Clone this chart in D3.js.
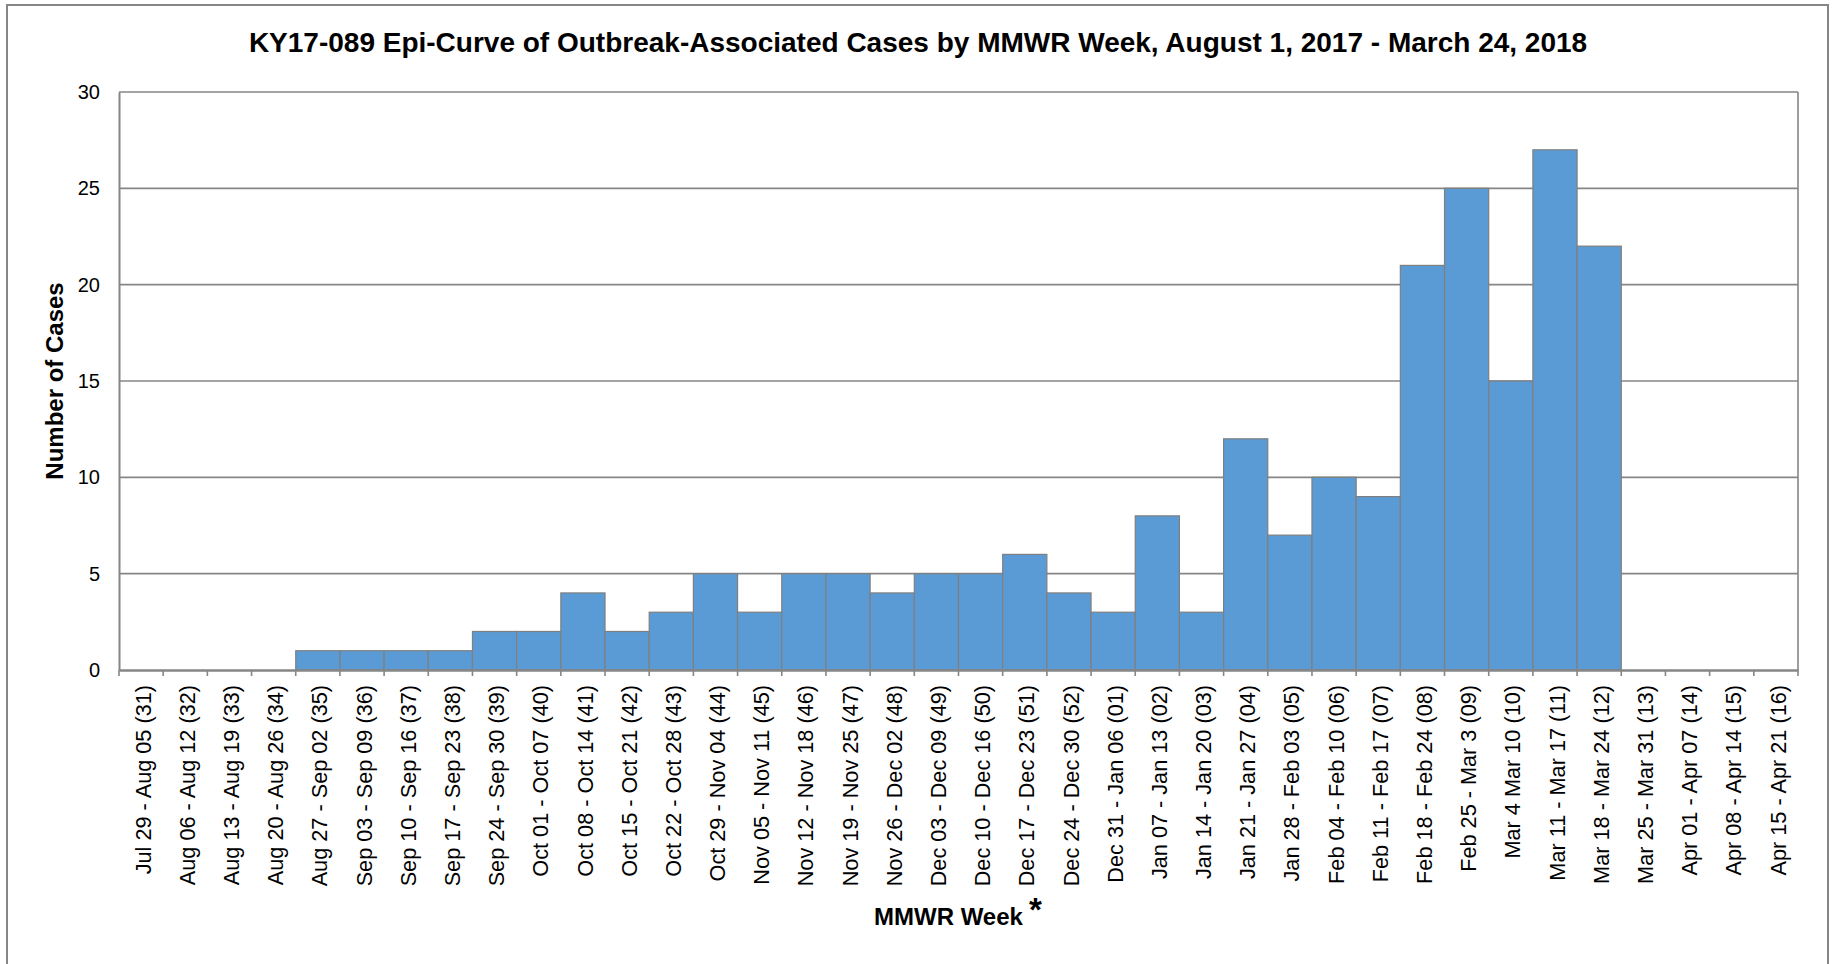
<!DOCTYPE html>
<html>
<head>
<meta charset="utf-8">
<script src="https://cdn.jsdelivr.net/npm/d3@7"></script>
<style>
  body { margin: 0; background: #fff; }
  svg { display: block; font-family: "Liberation Sans", Arial, sans-serif; }
</style>
</head>
<body>
<svg width="1833" height="964"></svg>
<script>
// weekly categories (MMWR week in brackets)
var weeks = [
  "Jul 29 - Aug 05 (31)", "Aug 06 - Aug 12 (32)", "Aug 13 - Aug 19 (33)", "Aug 20 - Aug 26 (34)",
  "Aug 27 - Sep 02 (35)", "Sep 03 - Sep 09 (36)", "Sep 10 - Sep 16 (37)", "Sep 17 - Sep 23 (38)",
  "Sep 24 - Sep 30 (39)", "Oct 01 - Oct 07 (40)", "Oct 08 - Oct 14 (41)", "Oct 15 - Oct 21 (42)",
  "Oct 22 - Oct 28 (43)", "Oct 29 - Nov 04 (44)", "Nov 05 - Nov 11 (45)", "Nov 12 - Nov 18 (46)",
  "Nov 19 - Nov 25 (47)", "Nov 26 - Dec 02 (48)", "Dec 03 - Dec 09 (49)", "Dec 10 - Dec 16 (50)",
  "Dec 17 - Dec 23 (51)", "Dec 24 - Dec 30 (52)", "Dec 31 - Jan 06 (01)", "Jan 07 - Jan 13 (02)",
  "Jan 14 - Jan 20 (03)", "Jan 21 - Jan 27 (04)", "Jan 28 - Feb 03 (05)", "Feb 04 - Feb 10 (06)",
  "Feb 11 - Feb 17 (07)", "Feb 18 - Feb 24 (08)", "Feb 25 - Mar 3 (09)", "Mar 4 Mar 10 (10)",
  "Mar 11 - Mar 17 (11)", "Mar 18 - Mar 24 (12)", "Mar 25 - Mar 31 (13)", "Apr 01 - Apr 07 (14)",
  "Apr 08 - Apr 14 (15)", "Apr 15 - Apr 21 (16)"
];
var cases = [0, 0, 0, 0, 1, 1, 1, 1, 2, 2, 4, 2, 3, 5, 3, 5, 5, 4, 5, 5, 6, 4, 3, 8, 3, 12, 7, 10, 9, 21, 25, 15, 27, 22, 0, 0, 0, 0];
var yTicks = [0, 5, 10, 15, 20, 25, 30];

var data = weeks.map(function(w, i) { return { week: w, n: cases[i] }; });

var svg = d3.select("svg");
var plotL = 119, plotR = 1798, plotT = 92, plotB = 670;
var grey = "#868686";

// outer frame
svg.append("rect")
  .attr("x", 7).attr("y", 5).attr("width", 1821).attr("height", 1000)
  .attr("fill", "none").attr("stroke", grey).attr("stroke-width", 2);

var x = d3.scaleBand().domain(weeks).range([plotL, plotR]).padding(0);
var y = d3.scaleLinear().domain([0, 30]).range([plotB, plotT]);

// gridlines
svg.append("g")
  .selectAll("line").data(yTicks.slice(1)).enter().append("line")
  .attr("x1", plotL).attr("x2", plotR)
  .attr("y1", function(d) { return y(d); })
  .attr("y2", function(d) { return y(d); })
  .attr("stroke", grey).attr("stroke-width", 1.6);

// right side of plot area
svg.append("line").attr("x1", plotR).attr("x2", plotR).attr("y1", plotT).attr("y2", plotB)
  .attr("stroke", grey).attr("stroke-width", 1.6);

// bars
svg.append("g")
  .selectAll("rect").data(data.filter(function(d) { return d.n > 0; })).enter().append("rect")
  .attr("x", function(d) { return x(d.week); })
  .attr("y", function(d) { return y(d.n); })
  .attr("width", x.bandwidth())
  .attr("height", function(d) { return y(0) - y(d.n); })
  .attr("fill", "#5b9bd5")
  .attr("stroke", "#7f7f7f").attr("stroke-width", 1.2);

// y axis
var yAxis = svg.append("g")
  .attr("transform", "translate(" + plotL + ",0)")
  .call(d3.axisLeft(y).tickValues(yTicks).tickSize(0).tickPadding(19));
yAxis.select(".domain").attr("stroke", grey).attr("stroke-width", 2);
yAxis.selectAll("text").attr("font-size", "20px").attr("fill", "#000")
  .attr("font-family", "Liberation Sans, Arial, sans-serif");

// x axis: ticks on the category boundaries
var xAxis = svg.append("g")
  .attr("transform", "translate(0," + plotB + ")")
  .call(d3.axisBottom(x).tickSize(0).tickPadding(0));
xAxis.select(".domain").attr("stroke", grey).attr("stroke-width", 2.4);
xAxis.selectAll(".tick line").remove();
xAxis.selectAll("text")
  .attr("font-size", "21.7px").attr("fill", "#000")
  .attr("font-family", "Liberation Sans, Arial, sans-serif")
  .attr("text-anchor", "end")
  .attr("transform", "translate(2,15) rotate(-90)")
  .attr("y", 0).attr("dy", "0.35em");

xAxis.selectAll(".bnd").data(weeks.concat([null])).enter().append("line")
  .attr("x1", function(d, i) { return plotL + i * x.step(); })
  .attr("x2", function(d, i) { return plotL + i * x.step(); })
  .attr("y1", 0).attr("y2", 6)
  .attr("stroke", grey).attr("stroke-width", 1.6);

// titles
svg.append("text")
  .attr("x", 918).attr("y", 52)
  .attr("text-anchor", "middle")
  .attr("font-size", "28px").attr("font-weight", "bold")
  .text("KY17-089 Epi-Curve of Outbreak-Associated Cases by MMWR Week, August 1, 2017 - March 24, 2018");

svg.append("text")
  .attr("transform", "translate(63,381) rotate(-90)")
  .attr("text-anchor", "middle")
  .attr("font-size", "24px").attr("font-weight", "bold")
  .text("Number of Cases");

svg.append("text")
  .attr("x", 874).attr("y", 925)
  .attr("font-size", "24px").attr("font-weight", "bold")
  .text("MMWR Week");

svg.append("text")
  .attr("x", 1029).attr("y", 921)
  .attr("font-size", "33px").attr("font-weight", "bold")
  .text("*");
</script>
</body>
</html>
